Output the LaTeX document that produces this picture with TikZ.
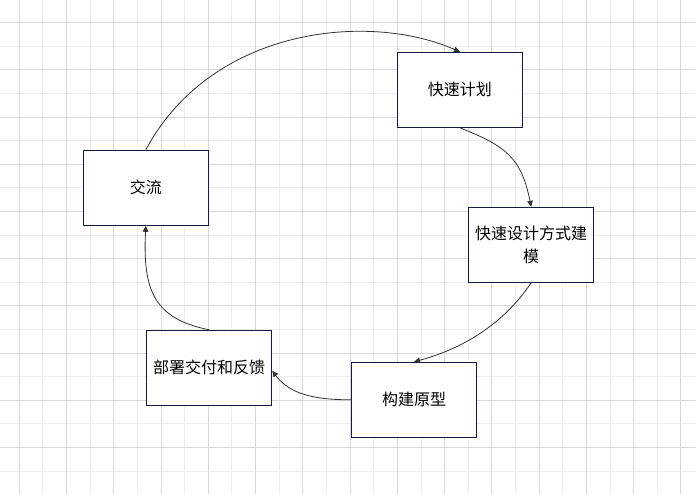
\documentclass[tikz,border=0pt]{standalone}
\usepackage{fontspec}
\usepackage{xcolor}
\usetikzlibrary{calc,arrows.meta}
\newfontfamily\cjk{Noto Sans CJK SC}
\definecolor{gridmajor}{HTML}{D9D9D9}
\definecolor{gridminor}{HTML}{EDEDED}
\definecolor{boxline}{HTML}{141B3C}
\definecolor{flowline}{HTML}{333333}
\tikzset{stage/.style={draw=boxline,line width=1pt,fill=white,minimum width=125pt,minimum height=75pt,inner sep=2pt,align=center,font=\cjk\fontsize{16}{23}\selectfont},
  flow/.style={flowline,line width=0.8pt,-{Triangle[length=6pt,width=5.5pt]}}}

\begin{document}
\begin{tikzpicture}[x=1pt,y=-1pt]
\useasboundingbox (0,0) rectangle (696,494);
\fill[white] (0,0) rectangle (696,494);
% grid
\foreach \k in {1,3,...,27} \draw[gridminor,line width=1pt] ({19.3+23.63*\k},0) -- ({19.3+23.63*\k},494);
\foreach \k in {1,3,...,19} \draw[gridminor,line width=1pt] (0,{22.7+23.6*\k}) -- (696,{22.7+23.6*\k});
\foreach \k in {0,2,...,28} \draw[gridmajor,line width=1pt] ({19.3+23.63*\k},0) -- ({19.3+23.63*\k},494);
\foreach \k in {0,2,...,18} \draw[gridmajor,line width=1pt] (0,{22.7+23.6*\k}) -- (696,{22.7+23.6*\k});
% stages
\node[stage] (plan) at (459.9,89.8) {快速计划};
\node[stage] (model) at (531.2,244.8) {快速设计方式建\\模};
\node[stage] (build) at (414,399.8) {构建原型};
\node[stage] (deliver) at (209.2,367.8) {部署交付和反馈};
\node[stage] (talk) at (145.8,187.8) {交流};
% cycle
\draw[flow] (talk.north) .. controls +(66,-123) and +(-91,-40) .. (plan.north);
\draw[flow] (plan.south) .. controls +(46.5,18.5) and +(-10,-49) .. (model.north);
\draw[flow] (model.south) .. controls +(-28,41.5) and +(48.5,-13) .. (build.north);
\draw[flow] (build.west) .. controls +(-35,0) and +(18,24) .. ($(deliver.east)+(0,3)$);
\draw[flow] (deliver.north) .. controls +(-55,-11) and +(-3.2,65) .. (talk.south);
\end{tikzpicture}
\end{document}
